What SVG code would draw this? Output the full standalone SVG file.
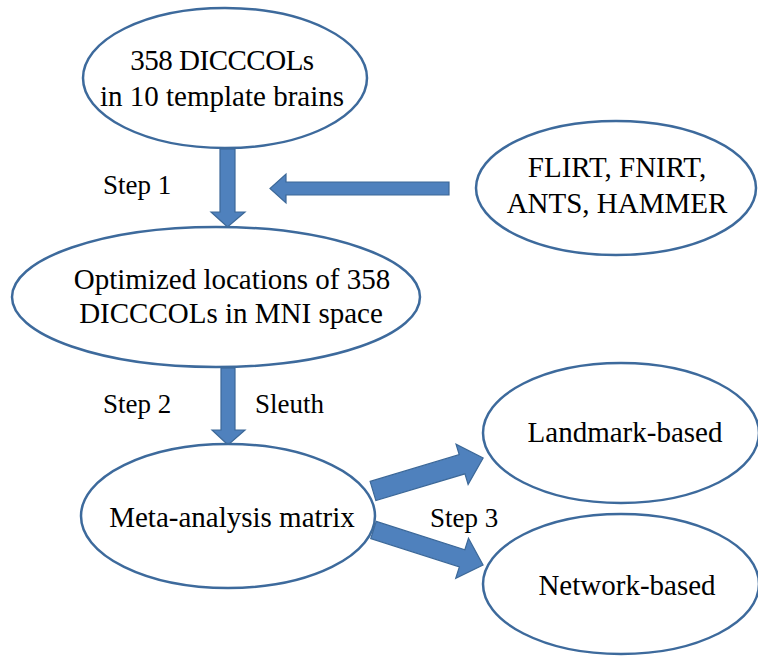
<svg xmlns="http://www.w3.org/2000/svg" width="758" height="658" viewBox="0 0 758 658">
<rect width="758" height="658" fill="#fff"/>
<g id="connectors" fill="#4F81BD" stroke="#3C6898" stroke-width="1.2">
<polygon points="220,149 235,149 235,212 245,212 227.5,227 211,212 220,212"/>
<polygon points="449,182 286,182 286,174 270,188.5 286,203 286,195 449,195"/>
<polygon points="221,368 235,368 235,430 245,430 228,445 212,430 221,430"/>
<g transform="translate(373,491) rotate(-16.7)"><polygon points="0,-10 93,-10 93,-21 115,0 93,21 93,10 0,10"/></g>
<g transform="translate(373.5,530) rotate(17.7)"><polygon points="0,-9 93,-9 93,-21 115,0 93,21 93,9 0,9"/></g>
</g>
<g id="nodes" font-family="Liberation Serif" font-size="29" text-anchor="middle">
<g id="n1"><ellipse cx="225" cy="78" rx="142" ry="70" fill="#fff" stroke="#3D6A9C" stroke-width="2.5"/>
<text x="222" y="70" letter-spacing="-0.5">358 DICCCOLs</text><text x="222" y="106">in 10 template brains</text></g>
<g id="n2"><ellipse cx="616" cy="188" rx="140" ry="67" fill="#fff" stroke="#3D6A9C" stroke-width="2.5"/>
<text x="617" y="177">FLIRT, FNIRT,</text><text x="617" y="213">ANTS, HAMMER</text></g>
<g id="n3"><ellipse cx="216" cy="297" rx="204" ry="70" fill="#fff" stroke="#3D6A9C" stroke-width="2.5"/>
<text x="232" y="289">Optimized locations of 358</text><text x="231" y="323">DICCCOLs in MNI space</text></g>
<g id="n4"><ellipse cx="228" cy="516" rx="147" ry="72" fill="#fff" stroke="#3D6A9C" stroke-width="2.5"/>
<text x="232" y="527">Meta-analysis matrix</text></g>
<g id="n5"><ellipse cx="621" cy="433" rx="138" ry="70" fill="#fff" stroke="#3D6A9C" stroke-width="2.5"/>
<text x="625" y="442">Landmark-based</text></g>
<g id="n6"><ellipse cx="621" cy="584" rx="138" ry="70" fill="#fff" stroke="#3D6A9C" stroke-width="2.5"/>
<text x="627" y="595">Network-based</text></g>
</g>
<g id="labels" font-family="Liberation Serif" font-size="27">
<text x="103" y="194">Step 1</text>
<text x="103" y="413">Step 2</text>
<text x="255" y="413">Sleuth</text>
<text x="430" y="527">Step 3</text>
</g>
</svg>
